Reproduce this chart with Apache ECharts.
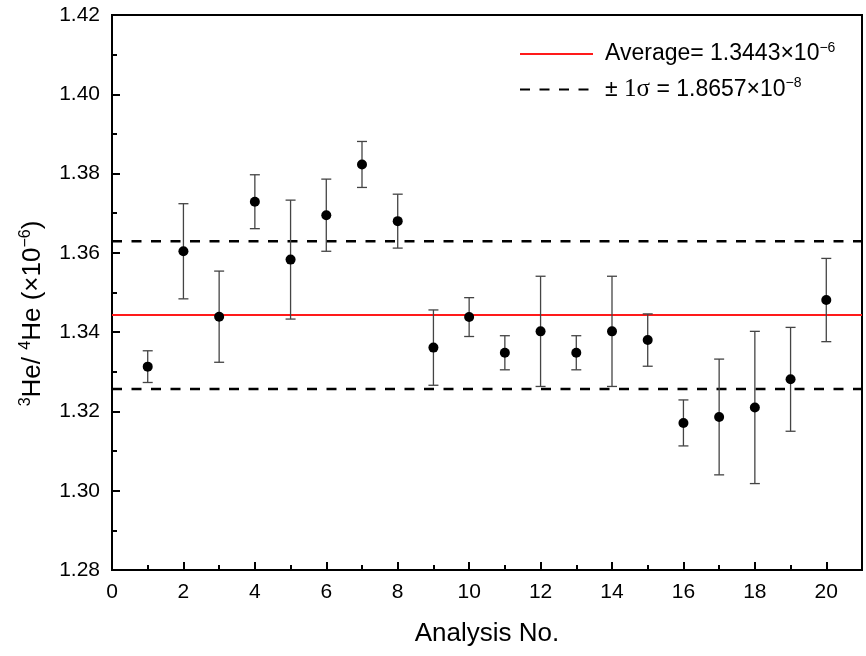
<!DOCTYPE html>
<html>
<head>
<meta charset="utf-8">
<title>3He/4He ratio by analysis</title>
<script src="https://cdn.jsdelivr.net/npm/echarts@6/dist/echarts.min.js"></script>
<style>
  html, body { margin: 0; padding: 0; background: #fff; }
  #chart { width: 866px; height: 656px; }
</style>
</head>
<body>
<div id="chart"></div>
<script>
// Analysis numbers
const analysisNo = [1, 2, 3, 4, 5, 6, 7, 8, 9, 10, 11, 12, 13, 14, 15, 16, 17, 18, 19, 20];
// Measured 3He/4He ratios (x10^-6)
const ratio = [1.3313, 1.3604, 1.3439, 1.3729, 1.3583, 1.3695, 1.3823, 1.3680, 1.3361, 1.3438,
               1.3348, 1.3402, 1.3348, 1.3402, 1.3380, 1.3171, 1.3186, 1.3210, 1.3281, 1.3481];
// One-sided uncertainty of each measurement (x10^-6)
const ratioErr = [0.0040, 0.0120, 0.0115, 0.0068, 0.0150, 0.0091, 0.0058, 0.0068, 0.0095, 0.0049,
                  0.0043, 0.0139, 0.0043, 0.0139, 0.0066, 0.0058, 0.0146, 0.0192, 0.0131, 0.0105];
// Mean and standard deviation of the set
const average = 1.3443;
const sigma = 0.018657;
// Axis ranges and ticks
const xRange = [0, 21];
const xStep = 2;
const yRange = [1.28, 1.42];
const yStep = 0.02;

const font = '"Liberation Sans", Arial, sans-serif';
const serif = '"Liberation Serif", "Times New Roman", serif';

const pointData = analysisNo.map((n, i) => [n, ratio[i]]);
const errData = analysisNo.map((n, i) => [n, ratio[i] - ratioErr[i], ratio[i] + ratioErr[i]]);
const avgData = [[xRange[0], average], [xRange[1], average]];
const upData = [[xRange[0], average + sigma], [xRange[1], average + sigma]];
const lowData = [[xRange[0], average - sigma], [xRange[1], average - sigma]];

const chart = echarts.init(document.getElementById('chart'), null, { renderer: 'canvas' });

const dash = [10, 9.5];

chart.setOption({
  animation: false,
  backgroundColor: '#fff',
  grid: {
    left: 112, right: 4, top: 15, bottom: 86,
    show: true, borderColor: '#000', borderWidth: 2, backgroundColor: 'transparent'
  },
  legend: {
    orient: 'vertical',
    left: 519, top: 41,
    padding: 0,
    itemWidth: 73, itemHeight: 12, itemGap: 11,
    data: ['Average', 'sigma'],
    itemStyle: { opacity: 0 },
    textStyle: {
      fontFamily: font, fontSize: 23, color: '#000', padding: [0, 0, 0, 7],
      rich: {
        t: { fontFamily: font, fontSize: 23, color: '#000', lineHeight: 26 },
        serif: { fontFamily: serif, fontSize: 25, color: '#000', lineHeight: 26 },
        s: { fontFamily: font, fontSize: 14, color: '#000', verticalAlign: 'top', lineHeight: 13 }
      }
    },
    formatter: function (name) {
      if (name === 'Average') return '{t|Average= 1.3443×10}{s|−6}';
      return '{t|± }{serif|1σ}{t| = 1.8657×10}{s|−8}';
    },
    selectedMode: false
  },
  xAxis: [{
    type: 'value', min: xRange[0], max: xRange[1], interval: xStep,
    axisLine: { show: true, lineStyle: { color: '#000', width: 2 } },
    axisTick: { show: true, inside: true, length: 8, lineStyle: { color: '#000', width: 2 } },
    axisLabel: { show: true, showMaxLabel: false, margin: 12, fontSize: 21, fontFamily: font, color: '#000' },
    splitLine: { show: false },
    name: 'Analysis No.',
    nameLocation: 'middle', nameGap: 51,
    nameTextStyle: { fontSize: 26, fontFamily: font, color: '#000' }
  }, {
    type: 'value', min: xRange[0], max: xRange[1], interval: 1, position: 'bottom',
    axisLine: { show: false },
    axisTick: { show: true, inside: true, length: 5, lineStyle: { color: '#000', width: 2 } },
    axisLabel: { show: false },
    splitLine: { show: false }
  }],
  yAxis: {
    type: 'value', min: yRange[0], max: yRange[1], interval: yStep,
    axisLine: { show: true, lineStyle: { color: '#000', width: 2 } },
    axisTick: { show: true, inside: true, length: 8, lineStyle: { color: '#000', width: 2 } },
    minorTick: { show: true, splitNumber: 2, length: 5, lineStyle: { color: '#000', width: 2 } },
    axisLabel: {
      margin: 12, fontSize: 21, fontFamily: font, color: '#000',
      formatter: v => v.toFixed(2)
    },
    splitLine: { show: false },
    name: '{s|3}{t|He/ }{s|4}{t|He (×10}{s|−6}{t|)}',
    nameLocation: 'middle', nameRotate: 90, nameGap: 64,
    nameTextStyle: {
      padding: [0, 42, 0, 0],
      rich: {
        t: { fontSize: 26, fontFamily: font, color: '#000', lineHeight: 30 },
        s: { fontSize: 16, fontFamily: font, color: '#000', verticalAlign: 'top', lineHeight: 16 }
      }
    }
  },
  series: [
    {
      name: 'Average', type: 'line', data: avgData, symbol: 'none',
      lineStyle: { color: '#ff1a1a', width: 2 }, itemStyle: { color: '#ff1a1a' },
      z: 2, silent: true
    },
    {
      name: 'sigma', type: 'line', data: upData, symbol: 'none',
      lineStyle: { color: '#000', width: 2.5, type: dash }, itemStyle: { color: '#000' },
      z: 2, silent: true
    },
    {
      name: 'sigma', type: 'line', data: lowData, symbol: 'none',
      lineStyle: { color: '#000', width: 2.5, type: dash }, itemStyle: { color: '#000' },
      z: 2, silent: true
    },
    {
      name: 'errors', type: 'custom', data: errData, z: 3, silent: true,
      renderItem: function (params, api) {
        const x = api.value(0);
        const lo = api.coord([x, api.value(1)]);
        const hi = api.coord([x, api.value(2)]);
        const half = 5;
        const style = { stroke: '#444', lineWidth: 1.3 };
        return {
          type: 'group',
          children: [
            { type: 'line', shape: { x1: lo[0], y1: lo[1], x2: hi[0], y2: hi[1] }, style: style },
            { type: 'line', shape: { x1: hi[0] - half, y1: hi[1], x2: hi[0] + half, y2: hi[1] }, style: style },
            { type: 'line', shape: { x1: lo[0] - half, y1: lo[1], x2: lo[0] + half, y2: lo[1] }, style: style }
          ]
        };
      }
    },
    {
      name: 'ratio', type: 'scatter', data: pointData, symbol: 'circle', symbolSize: 10,
      itemStyle: { color: '#000', opacity: 1 }, z: 4, silent: true
    }
  ]
});
</script>
</body>
</html>
